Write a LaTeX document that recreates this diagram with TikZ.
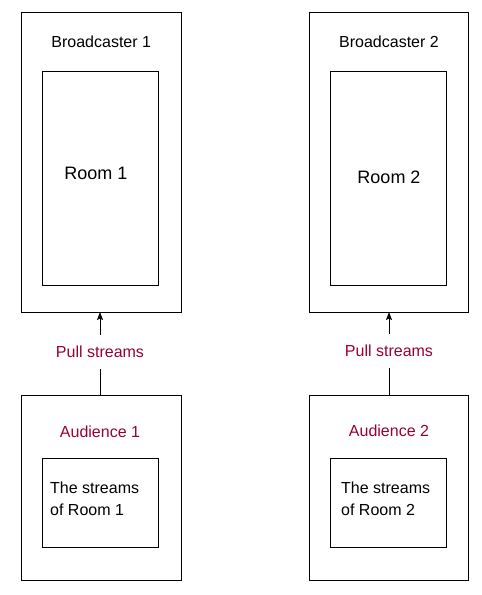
\documentclass[tikz,border=0pt]{standalone}
\usepackage{fontspec}
\setmainfont{Liberation Sans}
\usetikzlibrary{arrows.meta}
\definecolor{pullred}{RGB}{153,0,51}
\tikzset{
  box/.style={draw=black, line width=1pt, fill=white, inner sep=0pt, outer sep=0pt},
  lbl/.style={font=\fontsize{16}{19}\selectfont, inner sep=0pt},
  redlbl/.style={lbl, text=pullred},
  roomlbl/.style={font=\fontsize{18}{21}\selectfont, inner sep=0pt},
  conn/.style={line width=1pt},
  arr/.style={line width=1pt, -{Stealth[length=8pt,width=6pt,inset=1.5pt]}},
  gaplbl/.style={redlbl, minimum height=34pt}
}
\begin{document}
\begin{tikzpicture}[x=1pt,y=-1pt]
\useasboundingbox (0,0) rectangle (482,595);
% Broadcaster 1
\node[box, minimum width=159.5pt, minimum height=300pt] (bc1) at (101.25,162) {};
\node[box, minimum width=116pt, minimum height=214pt] (room1) at (100,178) {};
\node[lbl] (bc1t) at (101.25,42) {Broadcaster 1};
\node[roomlbl] (room1t) at (96,173) {Room 1};
% Broadcaster 2
\node[box, minimum width=159pt, minimum height=300pt] (bc2) at (388.8,162) {};
\node[box, minimum width=116pt, minimum height=214pt] (room2) at (388.3,178) {};
\node[lbl] (bc2t) at (389,42) {Broadcaster 2};
\node[roomlbl] (room2t) at (389,177) {Room 2};
% Audience 1
\node[box, minimum width=159.5pt, minimum height=184.5pt] (aud1) at (101.25,488) {};
\node[box, minimum width=116pt, minimum height=88.5pt] (str1) at (100,503) {};
\node[redlbl] (aud1t) at (100,432) {Audience 1};
\node[lbl, align=left, anchor=west, font=\fontsize{16}{22}\selectfont] (str1t) at (50,499) {The streams\\of Room 1};
% Audience 2
\node[box, minimum width=159pt, minimum height=184.5pt] (aud2) at (388.8,488) {};
\node[box, minimum width=116pt, minimum height=88.5pt] (str2) at (388.3,503) {};
\node[redlbl] (aud2t) at (389,431) {Audience 2};
\node[lbl, align=left, anchor=west, font=\fontsize{16}{22}\selectfont] (str2t) at (341,499) {The streams\\of Room 2};
% Pull streams connectors
\node[gaplbl] (pull1) at (100,352) {Pull streams};
\node[gaplbl] (pull2) at (389,351) {Pull streams};
\draw[conn] (aud1.north -| pull1.south) -- (pull1.south);
\draw[arr] (pull1.north) -- (pull1.north |- bc1.south);
\draw[conn] (aud2.north -| pull2.south) -- (pull2.south);
\draw[arr] (pull2.north) -- (pull2.north |- bc2.south);
\end{tikzpicture}
\end{document}
